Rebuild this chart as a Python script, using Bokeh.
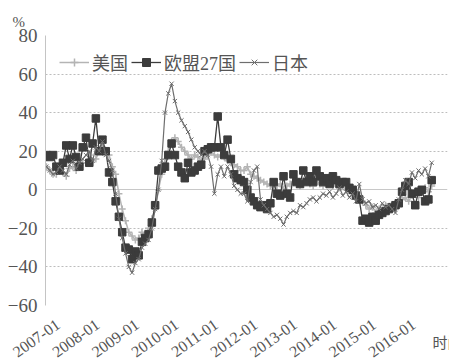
from bokeh.plotting import figure
from bokeh.models import Grid, Title, Legend, LegendItem, Range1d, FixedTicker
from bokeh.core.properties import value
from bokeh.embed import file_html
from bokeh.resources import INLINE

# month index 0 = 2007-01 ... 117 = 2016-10
tick_pos = [0, 12, 24, 36, 48, 60, 72, 84, 96, 108]
tick_labels = ["2007-01", "2008-01", "2009-01", "2010-01", "2011-01",
               "2012-01", "2013-01", "2014-01", "2015-01", "2016-01"]
y_ticks = [-60, -40, -20, 0, 20, 40, 60, 80]

eu27 = [18, 17, 18, 12, 10, 14, 23, 16, 23, 17, 12, 22,
        27, 14, 24, 37, 20, 26, 20, 9, 4, -6, -14, -22,
        -30, -31, -36, -32, -34, -27, -25, -23, -17, -8, 10, 11,
        12, 18, 24, 18, 12, 9, 6, 14, 9, 10, 12, 13,
        20, 21, 22, 22, 38, 22, 18, 26, 16, 8, 6, 5,
        4, 0, -4, -6, -8, -9, -8, -10, -7, 4, -2, -3,
        7, -2, -4, 8, 4, 3, 10, 4, 7, 4, 10, 7,
        4, 6, 3, 7, 5, 3, 4, 4, 1, 0, -3, -5,
        -16, -15, -17, -14, -16, -13, -12, -11, -10, -9, -8, -7,
        -1, 2, 4, -2, -8, -1, 0, -6, -5, 5]

japan = [12, 10, 8, 9, 12, 10, 8, 13, 15, 11, 14, 16,
         18, 20, 15, 22, 20, 25, 18, 15, 10, -2, -15, -25,
         -33, -40, -43, -38, -36, -30, -28, -26, -20, -10, 0, 15,
         40, 50, 55, 46, 40, 36, 33, 30, 26, 22, 20, 18,
         20, 18, 12, -2, 8, 12, 7, 12, 8, 2, 0, -2,
         -2, -6, 4, 10, 12, -5, -8, -10, -12, -14, -13, -15,
         -18, -14, -12, -11, -12, -8, -9, -7, -5, -4, -6, -4,
         -2, -3, -1, -4, -2, 1, -3, -1, -4, -2, -6, 3,
         -5, -7, -6, -9, -8, -10, -7, -9, -8, -10, -12, -5,
         0, 5, 3, 9, 6, 10, 8, 11, 7, 14]

usa = [12, 10, 8, 8, 10, 9, 7, 11, 12, 10, 13, 14,
       14, 18, 15, 16, 20, 22, 20, 18, 12, 8, -2, -10,
       -16, -22, -24, -26, -25, -22, -24, -20, -15, -10, 0, 8,
       16, 20, 25, 27, 25, 22, 20, 18, 16, 18, 17, 15,
       16, 18, 20, 18, 17, 18, 17, 15, 14, 13, 12, 10,
       10, 12, 8, 7, 6, 5, 4, 3, 2, 1, 2, 3,
       0, 2, 3, 4, 3, 2, 5, 4, 3, 2, 5, 3,
       2, 3, 4, 2, 3, 1, 2, 0, 1, -2, -3, -4,
       -6, -8, -10, -9, -12, -10, -11, -8, -9, -10, -7, -8,
       -5, -4, -6, -3, -2, -4, 0, 1, -1, 2]

months = list(range(len(eu27)))

SERIF = "Liberation Serif, serif"
CJK = "Liberation Serif, Noto Sans CJK SC, serif"
TXT = "#555555"
LABEL_SHIFT = 3.5          # rotated labels sit a little right of their month
GRID_END = 118.8           # gridlines stop here; frame runs a little further for the caption
CAPTION_AT = 112.5         # the axis caption starts at the end of the axis bounds

p = figure(width=449, height=361, x_range=Range1d(-0.3, 121.8), y_range=Range1d(-60, 80),
           output_backend="svg", toolbar_location=None,
           min_border_left=45, min_border_right=2, min_border_top=35, min_border_bottom=56)
p.outline_line_color = None
p.background_fill_color = "white"

p.xgrid.visible = False
p.ygrid.ticker = FixedTicker(ticks=[t for t in y_ticks if t != 0])
p.ygrid.grid_line_color = "#bdbdbd"
p.ygrid.grid_line_dash = "2 2"
p.ygrid.grid_line_width = 1
p.ygrid.bounds = (-0.3, GRID_END)

zero_grid = Grid(dimension=1, ticker=FixedTicker(ticks=[0]), bounds=(-0.3, GRID_END),
                 grid_line_color="#c8c8c8", grid_line_width=1)
p.add_layout(zero_grid)

p.yaxis.ticker = FixedTicker(ticks=y_ticks)
p.yaxis.axis_line_color = "#c4c4c4"
p.yaxis.major_tick_line_color = None
p.yaxis.minor_tick_line_color = None
p.yaxis.major_label_text_font = SERIF
p.yaxis.major_label_text_font_size = "19px"
p.yaxis.major_label_text_color = TXT
p.yaxis.major_label_standoff = 2

shifted = [t + LABEL_SHIFT for t in tick_pos]
p.xaxis.ticker = FixedTicker(ticks=shifted)
p.xaxis.major_label_overrides = {t: l for t, l in zip(shifted, tick_labels)}
p.xaxis.bounds = (-0.3, CAPTION_AT)
p.xaxis.axis_line_color = None
p.xaxis.major_tick_line_color = None
p.xaxis.minor_tick_line_color = None
p.xaxis.major_label_orientation = 0.62
p.xaxis.major_label_text_font = SERIF
p.xaxis.major_label_text_font_size = "16px"
p.xaxis.major_label_text_color = TXT
p.xaxis.major_label_standoff = 11
p.xaxis.axis_label = "时间"
p.xaxis.axis_label_align = "end"
p.xaxis.axis_label_standoff = -30
p.xaxis.axis_label_text_font = CJK
p.xaxis.axis_label_text_font_size = "15px"
p.xaxis.axis_label_text_font_style = "normal"
p.xaxis.axis_label_text_color = TXT

us_l = p.line(months, usa, line_color="#b4b4b4", line_width=1.5)
us_m = p.scatter(months, usa, marker="cross", size=7, line_color="#b4b4b4", line_width=1.5)
eu_l = p.line(months, eu27, line_color="#3c3c3c", line_width=1.3)
eu_m = p.scatter(months, eu27, marker="square", size=7.5, fill_color="#3c3c3c", line_color="#3c3c3c")
jp_l = p.line(months, japan, line_color="#6e6e6e", line_width=1.2)
jp_m = p.scatter(months, japan, marker="x", size=6, line_color="#6e6e6e", line_width=1)

legend = Legend(items=[
    LegendItem(label="美国", renderers=[us_l, us_m]),
    LegendItem(label="欧盟27国", renderers=[eu_l, eu_m]),
    LegendItem(label="日本", renderers=[jp_l, jp_m]),
], orientation="horizontal", location="top_left", margin=14, padding=4,
   spacing=3, glyph_width=30, label_standoff=3,
   label_text_font=CJK, label_text_font_size="18px", label_text_color=TXT,
   border_line_color=None, background_fill_alpha=0)
p.add_layout(legend, "center")

# unit caption at the top-left corner
p.add_layout(Title(text="%", align="left", offset=-33, standoff=12,
                   text_font=SERIF, text_font_size="15px", text_color=TXT,
                   text_font_style="normal"), "above")

open("out.html", "w").write(file_html(p, INLINE))
